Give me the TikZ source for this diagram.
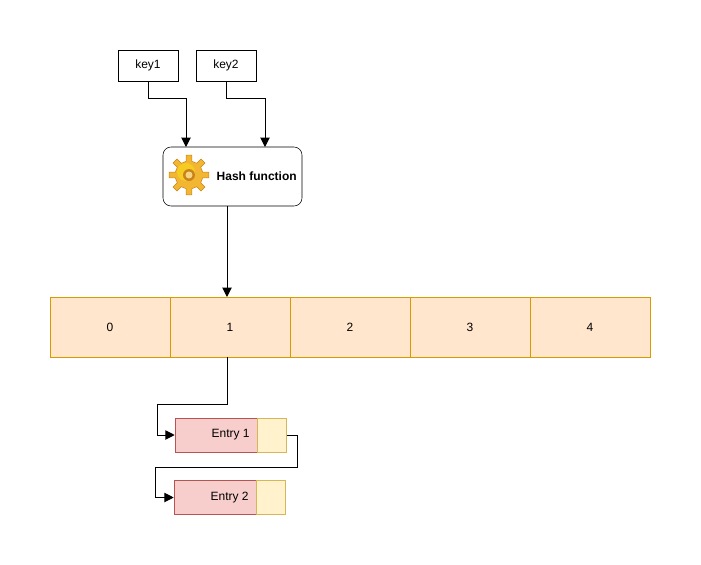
\documentclass[tikz,border=0pt]{standalone}
\usepackage{fontspec}
\setmainfont{Liberation Sans}
\usetikzlibrary{arrows.meta}
\definecolor{cellf}{HTML}{FFE6CC}\definecolor{celld}{HTML}{D79B00}
\definecolor{redf}{HTML}{F8CECC}\definecolor{redd}{HTML}{B85450}
\definecolor{yelf}{HTML}{FFF2CC}\definecolor{yeld}{HTML}{D6B656}
\definecolor{gearf}{HTML}{F2B632}\definecolor{geard}{HTML}{C8841A}
\begin{document}
\begin{tikzpicture}[x=0.75pt,y=-0.75pt,font=\fontsize{9}{11}\selectfont,
  box/.style={draw,minimum width=45pt,minimum height=23.25pt,inner sep=0pt},
  cell/.style={draw=celld,fill=cellf,minimum width=90pt,minimum height=45pt,inner sep=0pt},
  entr/.style={draw=redd,fill=redf,minimum width=61.5pt,minimum height=25.5pt,inner sep=0pt},
  enty/.style={draw=yeld,fill=yelf,minimum width=21.75pt,minimum height=25.5pt,inner sep=0pt},
  arr/.style={-{Triangle[length=7pt,width=7pt]},line width=0.75pt}]
\useasboundingbox (0,0) rectangle (701,565);
\node[box] (k1) at (148,65.5) {key1};
\node[box] (k2) at (226,65.5) {key2};
\node[draw,rounded corners=6pt,minimum width=104.25pt,minimum height=44.25pt,inner sep=0pt] (h) at (232.5,176.5) {};
\node[font=\fontsize{9}{11}\selectfont\bfseries,anchor=west] (ht) at (212,176) {Hash function};
% gear
\begin{scope}[shift={(189,175)}]
\fill[gearf,draw=geard,line width=0.4pt] (-12:14)
  \foreach \a in {0,45,...,315}{
    -- (\a-8:20) -- (\a+8:20) -- (\a+12:14) arc[start angle=\a+12,end angle=\a+33,radius=14]
  } -- cycle;
\fill[gearf!70!yellow] (-3,-3) circle (9);
\fill[geard] (0,0) circle (6);
\fill[gearf!60!white] (0,0) circle (3.5);
\end{scope}
\foreach \i in {0,...,4}{
  \node[cell] (c\i) at (110+120*\i,327) {\i};
}
\node[entr] (e1r) at (216,435) {\hspace{22pt}Entry 1};
\node[enty,anchor=west] (e1y) at (e1r.east) {};
\node[entr] (e2r) at (215,497.5) {\hspace{22pt}Entry 2};
\node[enty,anchor=west] (e2y) at (e2r.east) {};
\draw[arr] (k1.south) |- (186,98) -- (186,147);
\draw[arr] (k2.south) |- (265,98) -- (265,147);
\draw[arr] (227,206) -- (227,297);
\draw[arr] (227,357) -- (227,404) -- (157,404) |- (e1r.west);
\draw[arr] (e1y.east) -- (297,435) -- (297,467) -- (155,467) |- (e2r.west);
\end{tikzpicture}
\end{document}
